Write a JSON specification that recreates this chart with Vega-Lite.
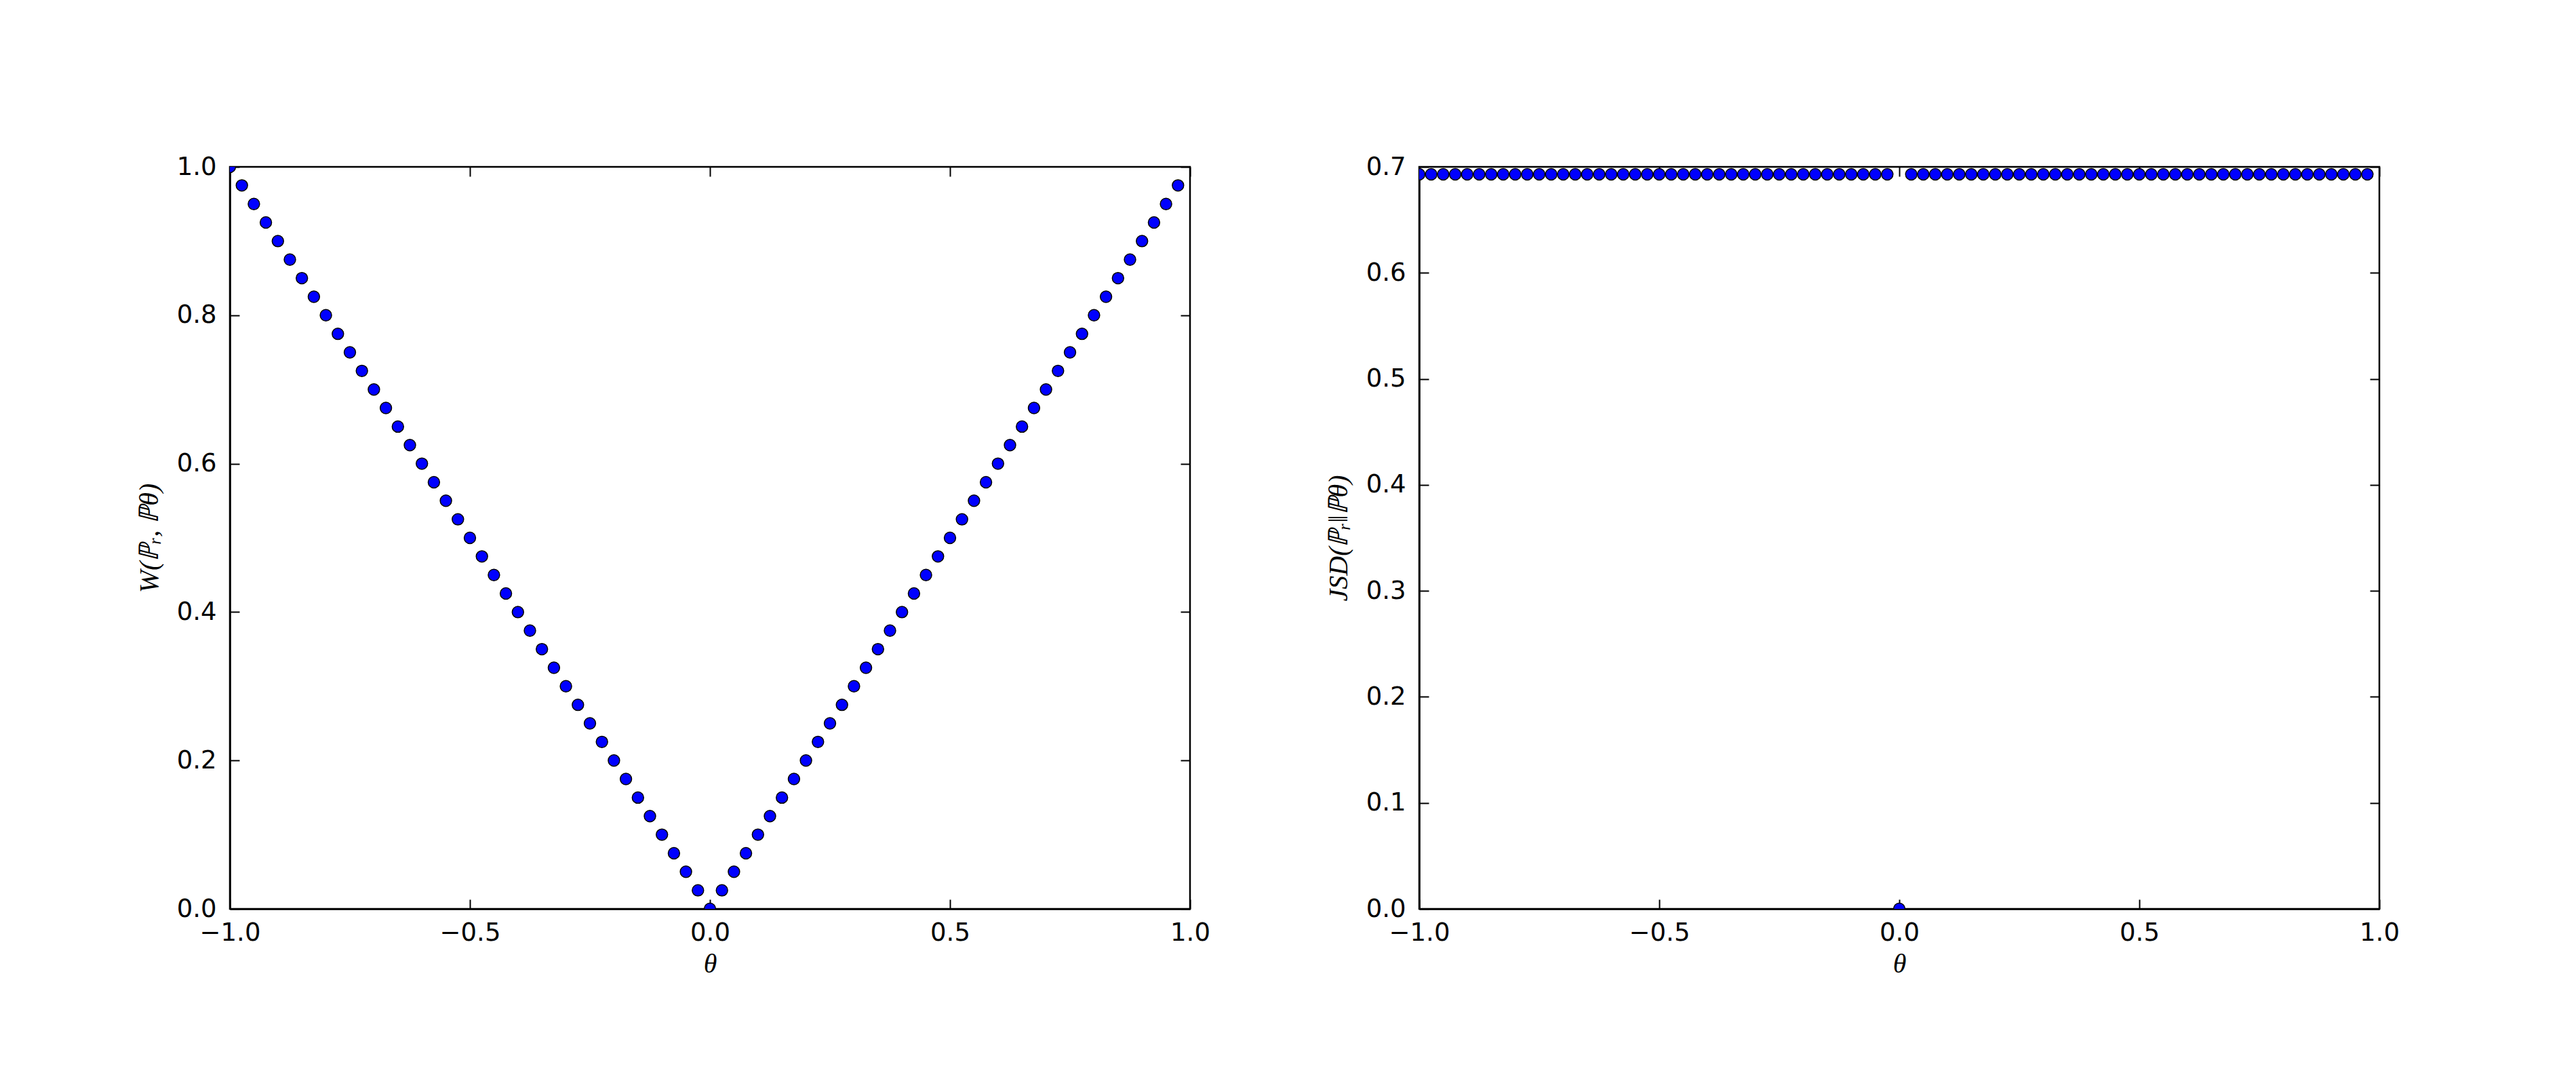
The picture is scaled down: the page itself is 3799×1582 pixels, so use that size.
{
  "$schema": "https://vega.github.io/schema/vega-lite/v6.json",
  "background": "white",
  "padding": {"left": 198, "top": 225, "right": 0, "bottom": 0},
  "data": {
    "values": [
      {"t": -1, "w": 1, "j": 0.693},
      {"t": -0.975, "w": 0.975, "j": 0.693},
      {"t": -0.95, "w": 0.95, "j": 0.693},
      {"t": -0.925, "w": 0.925, "j": 0.693},
      {"t": -0.9, "w": 0.9, "j": 0.693},
      {"t": -0.875, "w": 0.875, "j": 0.693},
      {"t": -0.85, "w": 0.85, "j": 0.693},
      {"t": -0.825, "w": 0.825, "j": 0.693},
      {"t": -0.8, "w": 0.8, "j": 0.693},
      {"t": -0.775, "w": 0.775, "j": 0.693},
      {"t": -0.75, "w": 0.75, "j": 0.693},
      {"t": -0.725, "w": 0.725, "j": 0.693},
      {"t": -0.7, "w": 0.7, "j": 0.693},
      {"t": -0.675, "w": 0.675, "j": 0.693},
      {"t": -0.65, "w": 0.65, "j": 0.693},
      {"t": -0.625, "w": 0.625, "j": 0.693},
      {"t": -0.6, "w": 0.6, "j": 0.693},
      {"t": -0.575, "w": 0.575, "j": 0.693},
      {"t": -0.55, "w": 0.55, "j": 0.693},
      {"t": -0.525, "w": 0.525, "j": 0.693},
      {"t": -0.5, "w": 0.5, "j": 0.693},
      {"t": -0.475, "w": 0.475, "j": 0.693},
      {"t": -0.45, "w": 0.45, "j": 0.693},
      {"t": -0.425, "w": 0.425, "j": 0.693},
      {"t": -0.4, "w": 0.4, "j": 0.693},
      {"t": -0.375, "w": 0.375, "j": 0.693},
      {"t": -0.35, "w": 0.35, "j": 0.693},
      {"t": -0.325, "w": 0.325, "j": 0.693},
      {"t": -0.3, "w": 0.3, "j": 0.693},
      {"t": -0.275, "w": 0.275, "j": 0.693},
      {"t": -0.25, "w": 0.25, "j": 0.693},
      {"t": -0.225, "w": 0.225, "j": 0.693},
      {"t": -0.2, "w": 0.2, "j": 0.693},
      {"t": -0.175, "w": 0.175, "j": 0.693},
      {"t": -0.15, "w": 0.15, "j": 0.693},
      {"t": -0.125, "w": 0.125, "j": 0.693},
      {"t": -0.1, "w": 0.1, "j": 0.693},
      {"t": -0.075, "w": 0.075, "j": 0.693},
      {"t": -0.05, "w": 0.05, "j": 0.693},
      {"t": -0.025, "w": 0.025, "j": 0.693},
      {"t": 0, "w": 0, "j": 0},
      {"t": 0.025, "w": 0.025, "j": 0.693},
      {"t": 0.05, "w": 0.05, "j": 0.693},
      {"t": 0.075, "w": 0.075, "j": 0.693},
      {"t": 0.1, "w": 0.1, "j": 0.693},
      {"t": 0.125, "w": 0.125, "j": 0.693},
      {"t": 0.15, "w": 0.15, "j": 0.693},
      {"t": 0.175, "w": 0.175, "j": 0.693},
      {"t": 0.2, "w": 0.2, "j": 0.693},
      {"t": 0.225, "w": 0.225, "j": 0.693},
      {"t": 0.25, "w": 0.25, "j": 0.693},
      {"t": 0.275, "w": 0.275, "j": 0.693},
      {"t": 0.3, "w": 0.3, "j": 0.693},
      {"t": 0.325, "w": 0.325, "j": 0.693},
      {"t": 0.35, "w": 0.35, "j": 0.693},
      {"t": 0.375, "w": 0.375, "j": 0.693},
      {"t": 0.4, "w": 0.4, "j": 0.693},
      {"t": 0.425, "w": 0.425, "j": 0.693},
      {"t": 0.45, "w": 0.45, "j": 0.693},
      {"t": 0.475, "w": 0.475, "j": 0.693},
      {"t": 0.5, "w": 0.5, "j": 0.693},
      {"t": 0.525, "w": 0.525, "j": 0.693},
      {"t": 0.55, "w": 0.55, "j": 0.693},
      {"t": 0.575, "w": 0.575, "j": 0.693},
      {"t": 0.6, "w": 0.6, "j": 0.693},
      {"t": 0.625, "w": 0.625, "j": 0.693},
      {"t": 0.65, "w": 0.65, "j": 0.693},
      {"t": 0.675, "w": 0.675, "j": 0.693},
      {"t": 0.7, "w": 0.7, "j": 0.693},
      {"t": 0.725, "w": 0.725, "j": 0.693},
      {"t": 0.75, "w": 0.75, "j": 0.693},
      {"t": 0.775, "w": 0.775, "j": 0.693},
      {"t": 0.8, "w": 0.8, "j": 0.693},
      {"t": 0.825, "w": 0.825, "j": 0.693},
      {"t": 0.85, "w": 0.85, "j": 0.693},
      {"t": 0.875, "w": 0.875, "j": 0.693},
      {"t": 0.9, "w": 0.9, "j": 0.693},
      {"t": 0.925, "w": 0.925, "j": 0.693},
      {"t": 0.95, "w": 0.95, "j": 0.693},
      {"t": 0.975, "w": 0.975, "j": 0.693}
    ]
  },
  "hconcat": [
    {
      "width": 1416,
      "height": 1094,
      "layer": [
        {
          "mark": {"type": "circle", "opacity": 0},
          "encoding": {
            "x": {"field": "t", "type": "quantitative", "scale": {"domain": [-1, 1], "nice": false, "padding": 0},
                  "axis": {"orient": "top", "labels": false, "title": null, "domain": false, "values": [-1, -0.5, 0, 0.5, 1]}},
            "y": {"field": "w", "type": "quantitative", "scale": {"domain": [0, 1], "nice": false, "padding": 0},
                  "axis": {"orient": "right", "labels": false, "title": null, "domain": false, "values": [0, 0.2, 0.4, 0.6, 0.8, 1]}}
          }
        },
        {
          "mark": {"type": "circle", "size": 285, "color": "#0000ff", "stroke": "black", "strokeWidth": 1.5, "opacity": 1, "clip": true},
          "encoding": {
            "x": {"field": "t", "type": "quantitative", "scale": {"domain": [-1, 1], "nice": false, "padding": 0},
                  "axis": {"orient": "bottom", "title": "θ", "values": [-1, -0.5, 0, 0.5, 1], "format": ".1f"}},
            "y": {"field": "w", "type": "quantitative", "scale": {"domain": [0, 1], "nice": false, "padding": 0},
                  "axis": {"orient": "left", "title": "W(ℙᵣ, ℙθ)", "values": [0, 0.2, 0.4, 0.6, 0.8, 1], "format": ".1f"}}
          }
        }
      ],
      "resolve": {"axis": {"x": "independent", "y": "independent"}}
    },
    {
      "width": 1416,
      "height": 1094,
      "layer": [
        {
          "mark": {"type": "circle", "opacity": 0},
          "encoding": {
            "x": {"field": "t", "type": "quantitative", "scale": {"domain": [-1, 1], "nice": false, "padding": 0},
                  "axis": {"orient": "top", "labels": false, "title": null, "domain": false, "values": [-1, -0.5, 0, 0.5, 1]}},
            "y": {"field": "j", "type": "quantitative", "scale": {"domain": [0, 0.7], "nice": false, "padding": 0},
                  "axis": {"orient": "right", "labels": false, "title": null, "domain": false, "values": [0, 0.1, 0.2, 0.3, 0.4, 0.5, 0.6, 0.7]}}
          }
        },
        {
          "mark": {"type": "circle", "size": 285, "color": "#0000ff", "stroke": "black", "strokeWidth": 1.5, "opacity": 1, "clip": true},
          "encoding": {
            "x": {"field": "t", "type": "quantitative", "scale": {"domain": [-1, 1], "nice": false, "padding": 0},
                  "axis": {"orient": "bottom", "title": "θ", "values": [-1, -0.5, 0, 0.5, 1], "format": ".1f"}},
            "y": {"field": "j", "type": "quantitative", "scale": {"domain": [0, 0.7], "nice": false, "padding": 0},
                  "axis": {"orient": "left", "title": "JSD(ℙᵣ‖ℙθ)", "values": [0, 0.1, 0.2, 0.3, 0.4, 0.5, 0.6, 0.7], "format": ".1f"}}
          }
        }
      ],
      "resolve": {"axis": {"x": "independent", "y": "independent"}}
    }
  ],
  "config": {
    "view": {"stroke": "black", "strokeWidth": 2.5},
    "concat": {"spacing": 166},
    "axis": {
      "grid": false,
      "labelFlush": false,
      "labelOverlap": false,
      "labelFont": "DejaVu Sans",
      "labelFontSize": 37,
      "labelColor": "black",
      "labelPadding": 31,
      "domainColor": "black",
      "domainWidth": 2.5,
      "tickColor": "black",
      "tickWidth": 2,
      "tickSize": -14,
      "titleFont": "Liberation Serif",
      "titleFontStyle": "italic",
      "titleFontWeight": "normal",
      "titleFontSize": 40,
      "titleColor": "black",
      "titlePadding": 8
    },
    "axisLeft": {"labelPadding": 34, "titlePadding": 20}
  }
}
